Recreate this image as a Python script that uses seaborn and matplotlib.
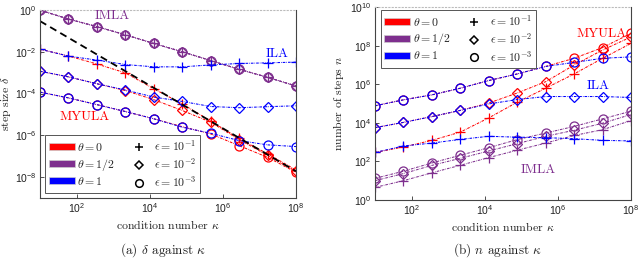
import numpy as np
import matplotlib
matplotlib.use("Agg")
import matplotlib.pyplot as plt
import seaborn as sns
from matplotlib.lines import Line2D
from matplotlib.patches import Patch
from matplotlib.font_manager import FontProperties
from matplotlib.ticker import FixedLocator, LogFormatterSciNotation, NullLocator

sns.set_theme(style="white")
plt.rcParams['font.family'] = ['Liberation Sans', 'DejaVu Sans']
plt.rcParams['mathtext.fontset'] = 'custom'
plt.rcParams['mathtext.rm'] = 'Liberation Sans'
plt.rcParams['mathtext.it'] = 'Liberation Sans:italic'
plt.rcParams['mathtext.bf'] = 'Liberation Sans:bold'

# ---------------- data ----------------
kappa = [10, 59.9, 359, 2154, 12915, 77426, 464159, 2.78e6, 1.67e7, 1e8]

thetas = ["0", "1/2", "1"]
theta_colors = ["#ff0000", "#7e2f8e", "#0000ff"]
algos = ["MYULA", "IMLA", "ILA"]
eps_labels = ["10^{-1}", "10^{-2}", "10^{-3}"]
eps_markers = ["+", "D", "o"]

x_ticks = [1e2, 1e4, 1e6, 1e8]
yA_ticks = [1e-8, 1e-6, 1e-4, 1e-2, 1e0]
yB_ticks = [1e0, 1e2, 1e4, 1e6, 1e8, 1e10]

# step size delta (panel a)
delta_myula_e1 = [1.33e-2, 6.3e-3, 2.6e-3, 9.8e-4, 1.7e-4, 3.2e-5, 4.8e-6, 7.1e-7, 1.3e-7, 2.2e-8]
delta_myula_e2 = [1.17e-3, 6.3e-4, 2.95e-4, 1.4e-4, 5.1e-5, 1.55e-5, 4.3e-6, 6.3e-7, 1.1e-7, 1.9e-8]
delta_myula_e3 = [1.17e-4, 6.2e-5, 2.95e-5, 1.38e-5, 6.2e-6, 2.6e-6, 1.17e-6, 3.2e-7, 8.9e-8, 1.7e-8]
delta_imla_e1 = [0.98, 0.37, 0.16, 0.065, 0.025, 0.01, 3.8e-3, 1.45e-3, 6.0e-4, 2.3e-4]
delta_imla_e2 = [0.98, 0.37, 0.16, 0.065, 0.025, 0.01, 3.8e-3, 1.45e-3, 6.0e-4, 2.3e-4]
delta_imla_e3 = [0.98, 0.37, 0.16, 0.065, 0.025, 0.01, 3.8e-3, 1.45e-3, 6.0e-4, 2.3e-4]
delta_ila_e1 = [1.33e-2, 6.2e-3, 4.0e-3, 2.45e-3, 1.9e-3, 1.9e-3, 2.35e-3, 2.75e-3, 2.95e-3, 3.2e-3]
delta_ila_e2 = [1.17e-3, 6.3e-4, 2.95e-4, 1.48e-4, 6.8e-5, 4.2e-5, 2.4e-5, 2.1e-5, 2.35e-5, 2.6e-5]
delta_ila_e3 = [1.17e-4, 6.2e-5, 2.95e-5, 1.38e-5, 6.2e-6, 2.45e-6, 1.26e-6, 5.6e-7, 3.5e-7, 2.9e-7]
ref_kappa = [10, 1e8]
ref_delta = [0.295, 1.9e-8]

# number of steps n (panel b)
n_myula_e1 = [290, 560, 1.23e3, 3.3e3, 1.8e4, 1.17e5, 6.2e5, 3.4e6, 2.2e7, 1.3e8]
n_myula_e2 = [5.6e3, 1.05e4, 2.1e4, 4.4e4, 1.05e5, 3.5e5, 1.35e6, 9.8e6, 5.9e7, 2.8e8]
n_myula_e3 = [7.6e4, 1.55e5, 2.8e5, 6.2e5, 1.55e6, 3.4e6, 8.3e6, 2.2e7, 7.9e7, 4.3e8]
n_imla_e1 = [4.5, 10, 25.7, 63, 158, 380, 890, 2.2e3, 4.4e3, 1.3e4]
n_imla_e2 = [10, 23.4, 62, 145, 347, 830, 2.0e3, 4.1e3, 9.5e3, 2.7e4]
n_imla_e3 = [13.2, 31, 83, 209, 513, 1.35e3, 2.95e3, 6.5e3, 1.6e4, 4.0e4]
n_ila_e1 = [290, 630, 890, 1.38e3, 2.0e3, 1.8e3, 1.7e3, 1.5e3, 1.23e3, 1.15e3]
n_ila_e2 = [5.6e3, 1.05e4, 2.1e4, 4.4e4, 9.5e4, 1.6e5, 2.3e5, 2.3e5, 2.3e5, 2.05e5]
n_ila_e3 = [7.6e4, 1.55e5, 2.8e5, 6.2e5, 1.55e6, 3.4e6, 8.3e6, 1.35e7, 2.2e7, 2.6e7]

delta_series = [[delta_myula_e1, delta_myula_e2, delta_myula_e3],
                [delta_imla_e1, delta_imla_e2, delta_imla_e3],
                [delta_ila_e1, delta_ila_e2, delta_ila_e3]]
n_series = [[n_myula_e1, n_myula_e2, n_myula_e3],
            [n_imla_e1, n_imla_e2, n_imla_e3],
            [n_ila_e1, n_ila_e2, n_ila_e3]]

# ---------------- figure ----------------
fig = plt.figure(figsize=(6.4, 2.76), dpi=100)
axA = fig.add_axes([40/640, 78/276, 256/640, 188/276])
axB = fig.add_axes([375/640, 76/276, 256/640, 193/276])

ls = (0, (2.5, 1.0, 0.6, 1.0))
serif = 'cmr10'

def draw(ax, series):
    ax.set_xscale('log')
    ax.set_yscale('log')
    for ti, col in enumerate(theta_colors):
        for ei, mk in enumerate(eps_markers):
            sns.lineplot(x=kappa, y=series[ti][ei], ax=ax, color=col, estimator=None,
                         linestyle=ls, linewidth=0.75, marker=mk,
                         markersize=6.5 if mk != 'D' else 5.0,
                         markerfacecolor='none', markeredgecolor=col,
                         markeredgewidth=0.9, legend=False)

draw(axA, delta_series)
sns.lineplot(x=ref_kappa, y=ref_delta, ax=axA, color='black', linestyle=(0, (4, 2.5)),
             linewidth=1.3, estimator=None, legend=False)

def style_axes(ax, ylo, yhi, yticks):
    ax.set_xlim(10, 1e8)
    ax.set_ylim(ylo, yhi)
    ax.xaxis.set_major_locator(FixedLocator(x_ticks))
    ax.yaxis.set_major_locator(FixedLocator(yticks))
    ax.xaxis.set_minor_locator(NullLocator())
    ax.yaxis.set_minor_locator(NullLocator())
    ax.xaxis.set_major_formatter(LogFormatterSciNotation())
    ax.yaxis.set_major_formatter(LogFormatterSciNotation())
    ax.tick_params(direction='in', length=3, width=0.6, colors='#333333',
                   labelsize=7.5, labelcolor='#222222', top=False, right=False,
                   bottom=True, left=True, pad=2.5)
    for s in ['bottom', 'left', 'right']:
        ax.spines[s].set_color('#444444')
        ax.spines[s].set_linewidth(0.8)
    ax.spines['top'].set_color('#bbbbbb')
    ax.spines['top'].set_linestyle((0, (1, 2)))
    ax.spines['top'].set_linewidth(0.8)
    ax.set_xlabel(r'condition number $\kappa$', fontfamily=serif, math_fontfamily='cm',
                  fontsize=8.5, labelpad=2, color='#222222')

style_axes(axA, 1e-9, 1e0, yA_ticks)
axA.set_ylabel(r'step size $\delta$', fontfamily=serif, math_fontfamily='cm',
               fontsize=8.5, labelpad=1.5, color='#222222')

draw(axB, n_series)
style_axes(axB, 1e0, 1e10, yB_ticks)
axB.set_ylabel(r'number of steps $n$', fontfamily=serif, math_fontfamily='cm',
               fontsize=8.5, labelpad=3, color='#222222')

# algorithm labels
lab_kw = dict(fontfamily=serif, fontsize=9.5, ha='center', va='center')
axA.text(930, 10**-0.27, algos[1], color=theta_colors[1], **lab_kw)
axA.text(10**7.48, 10**-2.1, algos[2], color=theta_colors[2], **lab_kw)
axA.text(10**2.23, 10**-5.13, algos[0], color=theta_colors[0], **lab_kw)
axB.text(10**7.2, 10**8.6, algos[0], color=theta_colors[0], **lab_kw)
axB.text(10**7.1, 10**5.93, algos[2], color=theta_colors[2], **lab_kw)
axB.text(10**5.46, 10**1.55, algos[1], color=theta_colors[1], **lab_kw)

# legends
def make_legend(ax, loc, anchor):
    handles = [Patch(facecolor=c, edgecolor='#cccccc', linewidth=0.5) for c in theta_colors]
    handles += [Line2D([], [], linestyle='none', marker=m, color='black', markerfacecolor='none',
                       markeredgewidth=1.1, markersize=5.5 if m != 'D' else 4.5) for m in eps_markers]
    labels = [r'$\theta = %s$' % t for t in thetas] + [r'$\epsilon = %s$' % e for e in eps_labels]
    leg = ax.legend(handles, labels, ncol=2, loc=loc, bbox_to_anchor=anchor,
                    prop=FontProperties(size=8.5, math_fontfamily='cm'),
                    handlelength=2.2, handleheight=0.55, handletextpad=0.2,
                    columnspacing=0.9, labelspacing=0.25, borderpad=0.3,
                    borderaxespad=0.0,
                    frameon=True, fancybox=False, framealpha=1.0)
    leg.get_frame().set_edgecolor('#555555')
    leg.get_frame().set_linewidth(0.7)
    return leg

make_legend(axA, 'lower left', (0.02, 0.027))
make_legend(axB, 'upper left', (0.023, 0.984))

# captions
cap_kw = dict(fontfamily=serif, math_fontfamily='cm', fontsize=9.5, ha='center', va='center', color='#222222')
fig.text(163/640, 1 - 250/276, r'(a) $\delta$ against $\kappa$', **cap_kw)
fig.text(498/640, 1 - 250/276, r'(b) $n$ against $\kappa$', **cap_kw)

fig.savefig('out.png', dpi=100, facecolor='white')
